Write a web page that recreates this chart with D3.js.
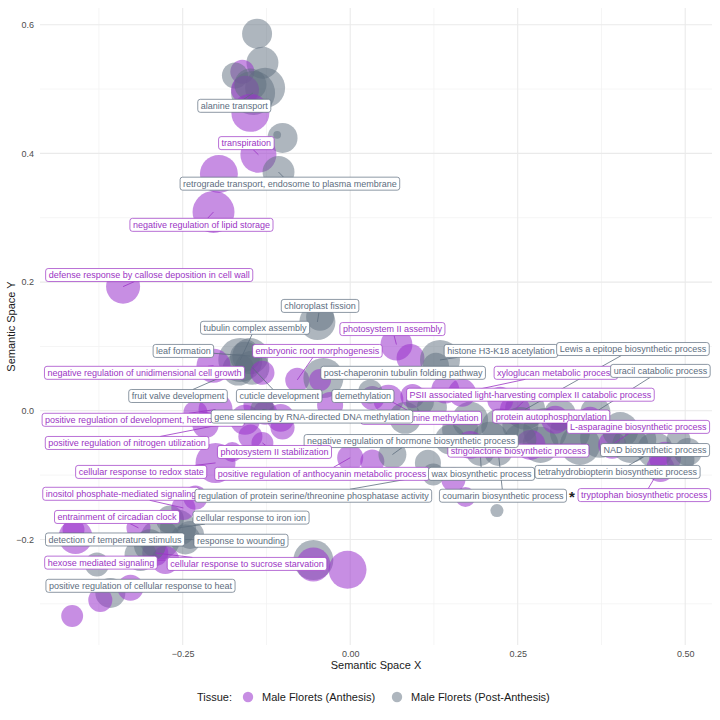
<!DOCTYPE html>
<html><head><meta charset="utf-8">
<script src="https://cdn.jsdelivr.net/npm/d3@7"></script>
<style>body{margin:0;background:#fff}svg{display:block}</style>
</head><body><svg id="c" width="720" height="720"></svg>
<script>
// ---------- data ----------
const tissueNames = ["Male Florets (Anthesis)", "Male Florets (Post-Anthesis)"];
const tissueCodes = ["A", "P"];
const xTicks = [-0.25, 0, 0.25, 0.5];
const yTicks = [-0.2, 0, 0.2, 0.4, 0.6];
const xMinor = [-0.375, -0.125, 0.125, 0.375];
const yMinor = [-0.3, -0.1, 0.1, 0.3, 0.5];

// [term, tissue, semantic X, semantic Y, size]
const bubbles = [
 ["", "P", -0.139, 0.586, 9.0],
 ["", "P", -0.131, 0.541, 10.2],
 ["", "A", -0.161, 0.527, 5.8],
 ["", "P", -0.172, 0.521, 6.8],
 ["alanine transport", "P", -0.145, 0.494, 19.4],
 ["", "P", -0.127, 0.502, 16.0],
 ["", "A", -0.157, 0.499, 7.8],
 ["", "P", -0.149, 0.507, 10.2],
 ["", "A", -0.149, 0.463, 14.4],
 ["", "P", -0.101, 0.424, 9.0],
 ["", "P", -0.109, 0.429, 0.6],
 ["transpiration", "A", -0.137, 0.398, 13.0],
 ["retrograde transport, endosome to plasma membrane", "P", -0.107, 0.371, 10.2],
 ["", "A", -0.196, 0.368, 14.4],
 ["negative regulation of lipid storage", "A", -0.204, 0.309, 17.6],
 ["defense response by callose deposition in cell wall", "A", -0.339, 0.193, 11.6],
 ["chloroplast fission", "P", -0.049, 0.138, 13.0],
 ["", "P", -0.045, 0.146, 7.8],
 ["tubulin complex assembly", "P", -0.164, 0.079, 19.4],
 ["leaf formation", "P", -0.149, 0.085, 13.0],
 ["", "P", -0.157, 0.084, 9.0],
 ["fruit valve development", "P", -0.167, 0.064, 10.2],
 ["cuticle development", "P", -0.146, 0.067, 11.6],
 ["negative regulation of unidimensional cell growth", "A", -0.204, 0.070, 11.6],
 ["", "A", -0.131, 0.059, 5.8],
 ["embryonic root morphogenesis", "A", -0.079, 0.048, 5.8],
 ["post-chaperonin tubulin folding pathway", "P", -0.040, 0.051, 16.0],
 ["photosystem II assembly", "A", 0.069, 0.103, 10.2],
 ["", "A", 0.090, 0.082, 7.8],
 ["histone H3-K18 acetylation", "P", 0.134, 0.079, 16.0],
 ["", "P", 0.128, 0.070, 6.8],
 ["positive regulation of development, heterochronic", "A", -0.201, 0.002, 11.6],
 ["", "A", -0.231, -0.003, 5.8],
 ["positive regulation of nitrogen utilization", "A", -0.157, -0.014, 9.0],
 ["", "A", -0.137, 0.009, 9.0],
 ["", "A", -0.127, -0.003, 5.8],
 ["", "A", -0.104, -0.011, 7.8],
 ["", "A", -0.149, -0.040, 5.8],
 ["cellular response to redox state", "A", -0.201, -0.081, 16.0],
 ["", "A", -0.176, -0.064, 4.0],
 ["photosystem II stabilization", "A", -0.131, -0.050, 4.8],
 ["", "A", -0.101, -0.026, 5.8],
 ["", "A", -0.216, -0.022, 6.8],
 ["gene silencing by RNA-directed DNA methylation", "P", -0.131, 0.002, 5.8],
 ["positive regulation of anthocyanin metabolic process", "A", 0.000, -0.073, 6.8],
 ["", "A", 0.033, -0.079, 5.8],
 ["negative regulation of hormone biosynthetic process", "P", 0.063, -0.068, 7.8],
 ["", "P", 0.116, -0.081, 6.8],
 ["", "A", 0.154, -0.107, 5.8],
 ["regulation of protein serine/threonine phosphatase activity", "P", 0.124, -0.099, 4.8],
 ["", "A", 0.172, -0.134, 4.0],
 ["", "P", 0.219, -0.155, 1.7],
 ["wax biosynthetic process", "P", 0.194, -0.064, 7.8],
 ["coumarin biosynthetic process", "P", 0.221, -0.064, 7.8],
 ["peptidyl-arginine methylation", "A", 0.057, 0.017, 9.0],
 ["", "P", 0.082, -0.011, 10.2],
 ["", "A", 0.093, 0.023, 5.8],
 ["", "P", 0.122, 0.005, 9.0],
 ["", "P", 0.104, 0.014, 7.8],
 ["", "A", 0.142, 0.033, 7.8],
 ["", "A", 0.033, 0.020, 5.8],
 ["demethylation", "P", 0.030, 0.030, 5.8],
 ["", "A", -0.030, 0.009, 6.8],
 ["", "A", -0.045, 0.048, 4.8],
 ["", "P", 0.179, -0.014, 13.0],
 ["", "P", 0.164, -0.029, 13.0],
 ["xyloglucan metabolic process", "A", 0.167, 0.028, 7.8],
 ["Lewis a epitope biosynthetic process", "P", 0.261, 0.002, 16.0],
 ["", "P", 0.224, -0.026, 14.4],
 ["", "P", 0.209, -0.045, 13.0],
 ["PSII associated light-harvesting complex II catabolic process", "A", 0.246, 0.002, 9.0],
 ["", "P", 0.254, -0.022, 13.0],
 ["", "P", 0.291, -0.030, 19.4],
 ["", "P", 0.284, -0.053, 13.0],
 ["strigolactone biosynthetic process", "A", 0.269, -0.053, 9.0],
 ["", "P", 0.328, -0.033, 16.0],
 ["", "P", 0.313, -0.006, 10.2],
 ["protein autophosphorylation", "A", 0.306, -0.014, 7.8],
 ["uracil catabolic process", "P", 0.366, -0.002, 9.0],
 ["", "P", 0.373, -0.042, 16.0],
 ["", "P", 0.343, -0.053, 16.0],
 ["L-asparagine biosynthetic process", "A", 0.391, -0.053, 7.8],
 ["", "P", 0.403, -0.030, 13.0],
 ["NAD biosynthetic process", "P", 0.418, -0.053, 13.0],
 ["", "P", 0.433, -0.045, 10.2],
 ["tetrahydrobiopterin biosynthetic process", "P", 0.455, -0.061, 13.0],
 ["", "A", 0.470, -0.073, 10.2],
 ["tryptophan biosynthetic process", "A", 0.463, -0.089, 7.8],
 ["", "P", 0.504, -0.064, 7.8],
 ["", "P", 0.493, -0.076, 7.8],
 ["", "P", 0.490, -0.045, 5.8],
 ["", "A", 0.358, -0.014, 6.8],
 ["", "P", 0.149, -0.045, 9.0],
 ["", "A", 0.179, -0.053, 7.8],
 ["", "P", 0.254, -0.045, 10.2],
 ["", "A", 0.224, 0.017, 6.8],
 ["", "A", -0.410, -0.196, 11.6],
 ["", "A", -0.413, -0.185, 4.8],
 ["detection of temperature stimulus", "P", -0.284, -0.200, 16.0],
 ["cellular response to iron ion", "P", -0.257, -0.182, 13.0],
 ["", "P", -0.269, -0.169, 7.8],
 ["response to wounding", "P", -0.246, -0.200, 9.0],
 ["", "P", -0.239, -0.193, 7.8],
 ["inositol phosphate-mediated signaling", "A", -0.249, -0.151, 5.8],
 ["entrainment of circadian clock", "A", -0.316, -0.182, 5.8],
 ["hexose mediated signaling", "A", -0.276, -0.232, 7.8],
 ["cellular response to sucrose starvation", "A", -0.291, -0.221, 6.8],
 ["", "P", -0.299, -0.209, 10.2],
 ["", "P", -0.378, -0.239, 5.8],
 ["", "P", -0.313, -0.224, 10.2],
 ["positive regulation of cellular response to heat", "P", -0.358, -0.283, 9.0],
 ["", "A", -0.373, -0.294, 5.8],
 ["", "A", -0.328, -0.275, 6.8],
 ["", "A", -0.415, -0.319, 4.8],
 ["", "P", -0.055, -0.232, 16.0],
 ["", "A", -0.055, -0.239, 11.6],
 ["", "A", -0.004, -0.247, 14.4],
 ["", "A", -0.231, -0.135, 5.8]
];

// repelled label centres: [term, label X, label Y]
const labels = [
 ["alanine transport", -0.173, 0.474],
 ["transpiration", -0.155, 0.416],
 ["retrograde transport, endosome to plasma membrane", -0.090, 0.353],
 ["negative regulation of lipid storage", -0.222, 0.289],
 ["defense response by callose deposition in cell wall", -0.300, 0.211],
 ["chloroplast fission", -0.045, 0.163],
 ["tubulin complex assembly", -0.142, 0.129],
 ["photosystem II assembly", 0.063, 0.127],
 ["leaf formation", -0.249, 0.093],
 ["embryonic root morphogenesis", -0.049, 0.093],
 ["negative regulation of unidimensional cell growth", -0.307, 0.059],
 ["post-chaperonin tubulin folding pathway", 0.079, 0.059],
 ["histone H3-K18 acetylation", 0.225, 0.093],
 ["Lewis a epitope biosynthetic process", 0.422, 0.096],
 ["xyloglucan metabolic process", 0.307, 0.059],
 ["uracil catabolic process", 0.463, 0.062],
 ["fruit valve development", -0.257, 0.023],
 ["cuticle development", -0.106, 0.023],
 ["demethylation", 0.019, 0.023],
 ["PSII associated light-harvesting complex II catabolic process", 0.269, 0.025],
 ["positive regulation of development, heterochronic", -0.309, -0.014],
 ["peptidyl-arginine methylation", 0.106, -0.011],
 ["gene silencing by RNA-directed DNA methylation", -0.057, -0.009],
 ["protein autophosphorylation", 0.300, -0.009],
 ["L-asparagine biosynthetic process", 0.430, -0.025],
 ["strigolactone biosynthetic process", 0.251, -0.062],
 ["negative regulation of hormone biosynthetic process", 0.091, -0.047],
 ["photosystem II stabilization", -0.113, -0.064],
 ["NAD biosynthetic process", 0.455, -0.061],
 ["positive regulation of nitrogen utilization", -0.333, -0.050],
 ["cellular response to redox state", -0.312, -0.095],
 ["positive regulation of anthocyanin metabolic process", -0.042, -0.098],
 ["wax biosynthetic process", 0.196, -0.098],
 ["tetrahydrobiopterin biosynthetic process", 0.399, -0.095],
 ["inositol phosphate-mediated signaling", -0.342, -0.129],
 ["regulation of protein serine/threonine phosphatase activity", -0.055, -0.132],
 ["coumarin biosynthetic process", 0.228, -0.132],
 ["tryptophan biosynthetic process", 0.439, -0.131],
 ["entrainment of circadian clock", -0.348, -0.165],
 ["cellular response to iron ion", -0.148, -0.166],
 ["detection of temperature stimulus", -0.351, -0.200],
 ["response to wounding", -0.163, -0.202],
 ["hexose mediated signaling", -0.372, -0.236],
 ["cellular response to sucrose starvation", -0.154, -0.238],
 ["positive regulation of cellular response to heat", -0.313, -0.272]
];
const starMark = [0.331, -0.131];

// ---------- drawing ----------
const svg = d3.select("#c");
const P = {l: 40, r: 712, t: 8, b: 645};
const x = d3.scaleLinear().domain([-0.463, 0.540]).range([P.l, P.r]);
const y = d3.scaleLinear().domain([-0.364, 0.626]).range([P.b, P.t]);
const rScale = d3.scaleSqrt().domain([0, 16]).range([0, 20]);
const fill = d3.scaleOrdinal().domain(tissueCodes).range(["#9932CC", "#5D6D7E"]);
const fillOp = {A: 0.55, P: 0.5};
const txtCol = d3.scaleOrdinal().domain(tissueCodes).range(["#9B34C4", "#5D6D7E"]);
const FONT = "Liberation Sans, Arial, Helvetica, sans-serif";

const grid = svg.append("g");
grid.selectAll(".vm").data(xMinor).join("line").attr("x1", d => x(d)).attr("x2", d => x(d))
  .attr("y1", P.t).attr("y2", P.b).attr("stroke", "#F2F2F2").attr("stroke-width", 0.8);
grid.selectAll(".hm").data(yMinor).join("line").attr("y1", d => y(d)).attr("y2", d => y(d))
  .attr("x1", P.l).attr("x2", P.r).attr("stroke", "#F2F2F2").attr("stroke-width", 0.8);
grid.selectAll(".vM").data(xTicks).join("line").attr("x1", d => x(d)).attr("x2", d => x(d))
  .attr("y1", P.t).attr("y2", P.b).attr("stroke", "#EAEAEA").attr("stroke-width", 1.1);
grid.selectAll(".hM").data(yTicks).join("line").attr("y1", d => y(d)).attr("y2", d => y(d))
  .attr("x1", P.l).attr("x2", P.r).attr("stroke", "#EAEAEA").attr("stroke-width", 1.1);

// axes
const ax = svg.append("g").attr("transform", `translate(0,${P.b + 2})`)
  .call(d3.axisBottom(x).tickValues(xTicks).tickSize(0).tickPadding(4).tickFormat(d3.format(".2f")));
const ay = svg.append("g").attr("transform", `translate(${P.l - 2},0)`)
  .call(d3.axisLeft(y).tickValues(yTicks).tickSize(0).tickPadding(4).tickFormat(d3.format(".1f")));
[ax, ay].forEach(g => {
  g.select(".domain").remove();
  g.selectAll("text").attr("fill", "#4D4D4D").style("font-family", FONT).style("font-size", "9px");
});

svg.append("text").attr("x", (P.l + P.r) / 2).attr("y", 669).attr("text-anchor", "middle")
  .style("font-family", FONT).style("font-size", "11px").attr("fill", "#1a1a1a").text("Semantic Space X");
svg.append("text").attr("transform", `translate(15,${(P.t + P.b) / 2}) rotate(-90)`).attr("text-anchor", "middle")
  .style("font-family", FONT).style("font-size", "11px").attr("fill", "#1a1a1a").text("Semantic Space Y");

// bubbles
const pts = bubbles.map(b => ({term: b[0], t: b[1], cx: x(b[2]), cy: y(b[3]), r: rScale(b[4])}));
svg.append("g").selectAll("circle").data(pts).join("circle")
  .attr("cx", d => d.cx).attr("cy", d => d.cy).attr("r", d => d.r)
  .attr("fill", d => fill(d.t)).attr("fill-opacity", d => fillOp[d.t]);

// labels
const byTerm = new Map(pts.filter(p => p.term).map(p => [p.term, p]));
const segG = svg.append("g");
const labG = svg.append("g");
const PADX = 3, BH = 13;
labels.forEach(l => {
  const p = byTerm.get(l[0]);
  const col = txtCol(p.t);
  const cx = x(l[1]), cy = y(l[2]);
  const g = labG.append("g");
  const rect = g.append("rect");
  const t = g.append("text").attr("x", cx).attr("y", cy + 3.2).attr("text-anchor", "middle")
    .style("font-family", FONT).style("font-size", "9px").attr("fill", col).text(l[0]);
  const w = t.node().getComputedTextLength() + 2 * PADX;
  rect.attr("x", cx - w / 2).attr("y", cy - BH / 2).attr("width", w).attr("height", BH)
    .attr("rx", 2.5).attr("fill", "#fff").attr("stroke", col).attr("stroke-width", 0.7);
  // leader segment from point to box edge
  const hw = w / 2, hh = BH / 2;
  const dx = p.cx - cx, dy = p.cy - cy;
  if (Math.abs(dx) > hw || Math.abs(dy) > hh) {
    const s = Math.min(Math.abs(dx) > 0 ? hw / Math.abs(dx) : Infinity, Math.abs(dy) > 0 ? hh / Math.abs(dy) : Infinity);
    const ex = cx + dx * s, ey = cy + dy * s;
    const len = Math.hypot(p.cx - ex, p.cy - ey);
    if (len > 3) {
      segG.append("line").attr("x1", p.cx).attr("y1", p.cy).attr("x2", ex).attr("y2", ey)
        .attr("stroke", col).attr("stroke-width", 0.8);
    }
  }
});
svg.append("text").attr("x", x(starMark[0])).attr("y", y(starMark[1]) + 7).attr("text-anchor", "middle")
  .style("font-family", FONT).style("font-size", "15px").style("font-weight", "bold").attr("fill", "#222").text("*");

// legend
const lg = svg.append("g").style("font-family", FONT).style("font-size", "11px");
lg.append("text").attr("x", 197).attr("y", 701).attr("fill", "#1a1a1a").text("Tissue:");
const legX = [248, 397];
tissueCodes.forEach((c, i) => {
  lg.append("circle").attr("cx", legX[i]).attr("cy", 697).attr("r", 5.2)
    .attr("fill", fill(c)).attr("fill-opacity", fillOp[c]);
  lg.append("text").attr("x", legX[i] + 14).attr("y", 701).attr("fill", "#1a1a1a").text(tissueNames[i]);
});
</script></body></html>
